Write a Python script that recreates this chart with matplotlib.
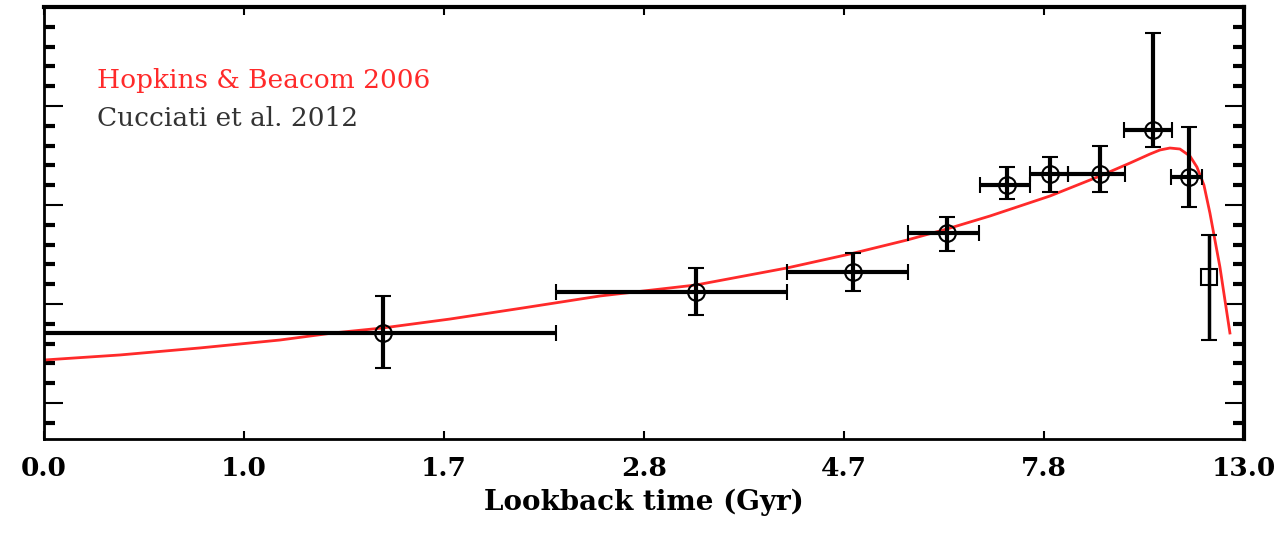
import numpy as np
import matplotlib
matplotlib.use("Agg")
import matplotlib.pyplot as plt
from matplotlib.ticker import MultipleLocator

# x-axis positions are evenly spaced tick slots, labelled with lookback time
tick_pos = [0, 1, 2, 3, 4, 5, 6]
tick_labels = ['0.0', '1.0', '1.7', '2.8', '4.7', '7.8', '13.0']

# Hopkins & Beacom 2006 fit (axis units)
hb_x = [0.000, 0.380, 0.780, 1.180, 1.445, 1.695, 2.030, 2.395, 2.780, 3.260,
        3.715, 4.030, 4.315, 4.515, 4.730, 5.030, 5.280, 5.430, 5.530, 5.580,
        5.630, 5.680, 5.730, 5.765, 5.800, 5.830, 5.855, 5.880, 5.905, 5.930]
hb_y = [0.434, 0.485, 0.556, 0.636, 0.707, 0.758, 0.848, 0.960, 1.081, 1.192,
        1.364, 1.505, 1.646, 1.758, 1.889, 2.091, 2.293, 2.424, 2.515, 2.556,
        2.576, 2.566, 2.495, 2.384, 2.202, 1.919, 1.646, 1.374, 1.040, 0.707]

# Cucciati et al. 2012 points
cu_x = [1.695, 3.260, 4.045, 4.515, 4.815, 5.030, 5.280, 5.545, 5.725]
cu_y = [0.707, 1.121, 1.323, 1.717, 2.202, 2.313, 2.313, 2.758, 2.283]
cu_xlo = [1.695, 0.700, 0.330, 0.195, 0.135, 0.100, 0.160, 0.145, 0.090]
cu_xhi = [0.865, 0.455, 0.275, 0.160, 0.115, 0.090, 0.125, 0.095, 0.065]
cu_ylo = [0.354, 0.232, 0.192, 0.182, 0.141, 0.182, 0.182, 0.172, 0.303]
cu_yhi = [0.374, 0.243, 0.192, 0.162, 0.182, 0.172, 0.283, 0.980, 0.505]

# last (square) point
sq_x = [5.825]
sq_y = [1.273]
sq_ylo = [0.637]
sq_yhi = [0.424]

fig = plt.figure(figsize=(12.82, 5.46), dpi=100)
ax = fig.add_axes([0.0343, 0.196, 0.936, 0.791])

ax.plot(hb_x, hb_y, color='#ff2a2a', lw=2, zorder=2)

ax.errorbar(cu_x, cu_y, xerr=[cu_xlo, cu_xhi], yerr=[cu_ylo, cu_yhi],
            fmt='o', mfc='none', mec='black', ms=12, mew=1.5,
            ecolor='black', elinewidth=3, capsize=6, capthick=3, zorder=3)
ax.errorbar(sq_x, sq_y, yerr=[sq_ylo, sq_yhi],
            fmt='s', mfc='none', mec='black', ms=12, mew=1.5,
            ecolor='black', elinewidth=2.5, capsize=6, capthick=3, zorder=3)

ax.set_xlim(0, 6)
ax.set_ylim(-0.364, 4.0)
ax.set_xticks(tick_pos)
ax.set_xticklabels(tick_labels)
ax.yaxis.set_major_locator(MultipleLocator(1))
ax.yaxis.set_minor_locator(MultipleLocator(0.2))
ax.set_yticklabels([])

ax.tick_params(axis='x', which='major', direction='in', top=True, bottom=True,
               length=6, width=1.5, pad=12, labelsize=19)
ax.tick_params(axis='y', which='major', direction='in', left=True, right=True,
               length=14, width=1.5)
ax.tick_params(axis='y', which='minor', direction='in', left=True, right=True,
               length=8, width=3)
for lab in ax.get_xticklabels():
    lab.set_family('DejaVu Serif')
    lab.set_weight('bold')

for side in ['top', 'right']:
    ax.spines[side].set_linewidth(3)
for side in ['left', 'bottom']:
    ax.spines[side].set_linewidth(2)

ax.set_xlabel('Lookback time (Gyr)', family='DejaVu Serif', weight='bold',
              fontsize=20, labelpad=6)

ax.text(0.044, 0.831, 'Hopkins & Beacom 2006', transform=ax.transAxes,
        color='#ff2a2a', fontsize=19, family='DejaVu Serif', va='center')
ax.text(0.044, 0.743, 'Cucciati et al. 2012', transform=ax.transAxes,
        color='#333333', fontsize=19, family='DejaVu Serif', va='center')

fig.savefig('out.png', dpi=100)
